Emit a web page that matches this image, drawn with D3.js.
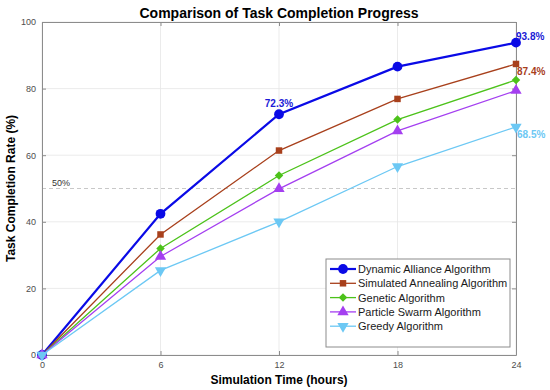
<!DOCTYPE html>
<html lang="en">
<head>
<meta charset="UTF-8">
<title>Task Completion Progress</title>
<script src="https://cdn.jsdelivr.net/npm/d3@7"></script>
<style>
  body { margin: 0; background: #fff; }
  svg { font-family: "Liberation Sans", Arial, sans-serif; }
</style>
</head>
<body>
<script>
// data
const hours = [0, 6, 12, 18, 24];
const dynamicAlliance = [0, 42.4, 72.3, 86.6, 93.8];
const simAnnealing = [0, 36.2, 61.4, 76.9, 87.4];
const genetic = [0, 32.0, 53.9, 70.7, 82.6];
const particleSwarm = [0, 29.6, 49.9, 67.3, 79.4];
const greedy = [0, 25.4, 40.0, 56.6, 68.5];
const xTicks = [0, 6, 12, 18, 24];
const yTicks = [0, 20, 40, 60, 80, 100];

const series = [
  { name: "Dynamic Alliance Algorithm", values: dynamicAlliance, color: "#0a0ae6", width: 2.2, marker: "circle", size: 75 },
  { name: "Simulated Annealing Algorithm", values: simAnnealing, color: "#a8401c", width: 1.3, marker: "square", size: 42 },
  { name: "Genetic Algorithm", values: genetic, color: "#4cc21a", width: 1.3, marker: "diamond", size: 36 },
  { name: "Particle Swarm Algorithm", values: particleSwarm, color: "#a43ff0", width: 1.3, marker: "triangle", size: 55 },
  { name: "Greedy Algorithm", values: greedy, color: "#6cc8f4", width: 1.3, marker: "triangleDown", size: 55 }
];

const W = 550, H = 390;
const m = { left: 42, right: 34, top: 22, bottom: 35 };

const svg = d3.select("body").append("svg")
  .attr("width", W).attr("height", H);

const x = d3.scaleLinear().domain([0, 24]).range([m.left, W - m.right]);
const y = d3.scaleLinear().domain([0, 100]).range([H - m.bottom, m.top]);

// grid
svg.append("g").selectAll("line.gx").data(xTicks).join("line")
  .attr("x1", d => x(d)).attr("x2", d => x(d))
  .attr("y1", y(0)).attr("y2", y(100))
  .attr("stroke", "#e6e6e6").attr("stroke-width", 0.8);
svg.append("g").selectAll("line.gy").data(yTicks).join("line")
  .attr("x1", x(0)).attr("x2", x(24))
  .attr("y1", d => y(d)).attr("y2", d => y(d))
  .attr("stroke", "#e6e6e6").attr("stroke-width", 0.8);

// 50% reference line
svg.append("line")
  .attr("x1", x(0)).attr("x2", x(24))
  .attr("y1", y(50)).attr("y2", y(50))
  .attr("stroke", "#c8c8c8").attr("stroke-width", 1)
  .attr("stroke-dasharray", "4,3");
svg.append("text")
  .attr("x", x(0) + 10).attr("y", y(50) - 3)
  .attr("font-size", 9).attr("fill", "#333")
  .text("50%");

// axes
const xAxis = svg.append("g").attr("transform", `translate(0,${y(0)})`)
  .call(d3.axisBottom(x).tickValues(xTicks).tickSizeInner(-4).tickSizeOuter(0).tickPadding(7));
const yAxis = svg.append("g").attr("transform", `translate(${x(0)},0)`)
  .call(d3.axisLeft(y).tickValues(yTicks).tickSizeInner(-4).tickSizeOuter(0).tickPadding(6));
const xAxisTop = svg.append("g").attr("transform", `translate(0,${y(100)})`)
  .call(d3.axisTop(x).tickValues(xTicks).tickSizeInner(-4).tickSizeOuter(0).tickFormat(""));
const yAxisRight = svg.append("g").attr("transform", `translate(${x(24)},0)`)
  .call(d3.axisRight(y).tickValues(yTicks).tickSizeInner(-4).tickSizeOuter(0).tickFormat(""));
[xAxis, yAxis, xAxisTop, yAxisRight].forEach(g => {
  g.select(".domain").attr("stroke", "#8c8c8c").attr("stroke-width", 1);
  g.selectAll(".tick line").attr("stroke", "#8c8c8c");
  g.selectAll(".tick text").attr("font-size", 9).attr("fill", "#4d4d4d")
    .attr("font-family", "\"Liberation Sans\", Arial, sans-serif");
});

// lines and markers
const line = d3.line().x((d, i) => x(hours[i])).y(d => y(d));
const symbols = {
  circle: d3.symbolCircle, square: d3.symbolSquare, diamond: d3.symbolSquare,
  triangle: d3.symbolTriangle, triangleDown: d3.symbolTriangle
};
const rotations = { diamond: 45, triangleDown: 180 };
function markerPath(s) {
  return d3.symbol().type(symbols[s.marker]).size(s.size)();
}
function markerTransform(s, px, py) {
  const r = rotations[s.marker];
  return `translate(${px},${py})` + (r ? ` rotate(${r})` : "");
}

series.forEach(s => {
  svg.append("path")
    .attr("d", line(s.values))
    .attr("fill", "none").attr("stroke", s.color).attr("stroke-width", s.width);
});
series.forEach(s => {
  svg.append("g").selectAll("path").data(s.values).join("path")
    .attr("d", markerPath(s))
    .attr("transform", (d, i) => markerTransform(s, x(hours[i]), y(d)))
    .attr("fill", s.color);
});

// value labels
const labels = [
  { t: "72.3%", xi: 2, v: dynamicAlliance[2], dx: 0, dy: -7, anchor: "middle", color: "#1a1ad6" },
  { t: "93.8%", xi: 4, v: dynamicAlliance[4], dx: 0, dy: -3, anchor: "start", color: "#1a1ad6" },
  { t: "87.4%", xi: 4, v: simAnnealing[4], dx: 1, dy: 11, anchor: "start", color: "#a8401c" },
  { t: "68.5%", xi: 4, v: greedy[4], dx: 1, dy: 11, anchor: "start", color: "#6cc8f4" }
];
svg.append("g").selectAll("text").data(labels).join("text")
  .attr("x", d => x(hours[d.xi]) + d.dx).attr("y", d => y(d.v) + d.dy)
  .attr("text-anchor", d => d.anchor)
  .attr("font-size", 10).attr("font-weight", "bold")
  .attr("fill", d => d.color)
  .text(d => d.t);

// titles
svg.append("text").attr("x", (x(0) + x(24)) / 2).attr("y", 18)
  .attr("text-anchor", "middle").attr("font-size", 14).attr("font-weight", "bold")
  .text("Comparison of Task Completion Progress");
svg.append("text").attr("x", (x(0) + x(24)) / 2).attr("y", 384)
  .attr("text-anchor", "middle").attr("font-size", 12).attr("font-weight", "bold")
  .text("Simulation Time (hours)");
svg.append("text")
  .attr("transform", `translate(15,${(y(0) + y(100)) / 2}) rotate(-90)`)
  .attr("text-anchor", "middle").attr("font-size", 12).attr("font-weight", "bold")
  .text("Task Completion Rate (%)");

// legend
const lg = svg.append("g").attr("transform", "translate(326,259)");
lg.append("rect").attr("width", 184).attr("height", 88)
  .attr("fill", "#fff").attr("stroke", "#8c8c8c").attr("stroke-width", 1);
series.forEach((s, i) => {
  const yy = 10 + i * 14.3;
  lg.append("line").attr("x1", 4).attr("x2", 30).attr("y1", yy).attr("y2", yy)
    .attr("stroke", s.color).attr("stroke-width", s.width);
  lg.append("path").attr("d", markerPath(s))
    .attr("transform", markerTransform(s, 17, yy))
    .attr("fill", s.color);
  lg.append("text").attr("x", 32).attr("y", yy + 4)
    .attr("font-size", 11).attr("fill", "#1a1a1a").text(s.name);
});
</script>
</body>
</html>
